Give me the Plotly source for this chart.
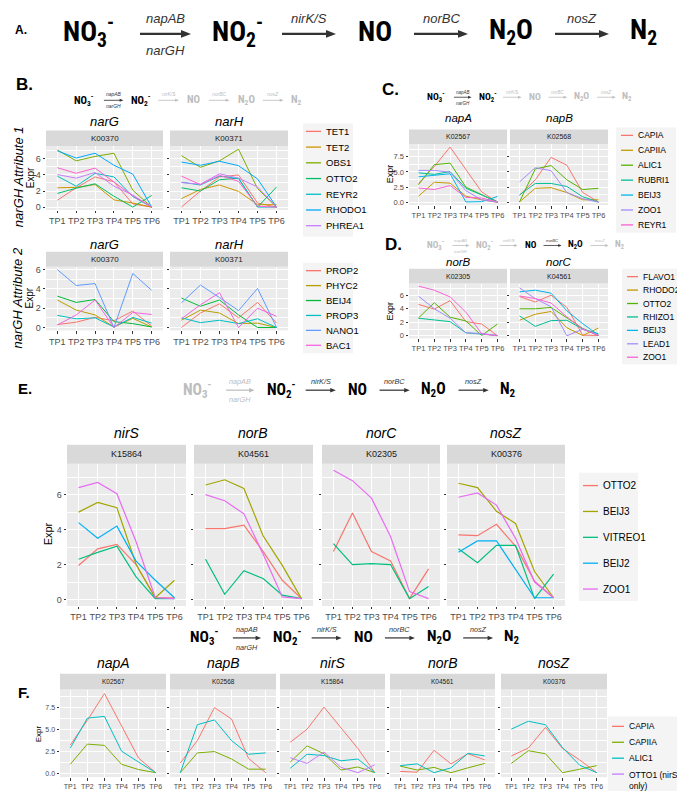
import plotly.graph_objects as go

W, H = 685, 791
FONT = "Liberation Sans, Arial, sans-serif"
NARROW = "Liberation Sans Narrow, Roboto Condensed, Arial Narrow, Liberation Sans, sans-serif"

tps = ["TP1", "TP2", "TP3", "TP4", "TP5", "TP6"]

# ---- B: narGH attribute 1
b1_strains = ["TET1", "TET2", "OBS1", "OTTO2", "REYR2", "RHODO1", "PHREA1", "other"]
b1_colors = ["#F8766D", "#CD9600", "#7CAE00", "#00BE67", "#00BFC4", "#00A9FF", "#C77CFF", "#FF61CC"]
b1_narG = [
    [0.85, 2.4, 3.75, 3.15, 0.4, 0],
    [2.4, 2.45, 2.8, 0.9, 0.5, 0],
    [7.1, 5.75, 6.3, 6.7, 2.1, 0],
    [1.7, 2.35, 2.9, 1.35, 0, 1.45],
    [3.85, 2.6, 4.2, 3.75, 1.3, 0],
    [7.0, 6.1, 6.7, 5.2, 4.1, 0],
    [4.05, 3.6, 4.3, 2.6, 1.5, 0],
    [4.9, 4.2, 4.85, 3.1, 1.4, 0],
]
b1_narH = [
    [0, 2.0, 3.75, 4.0, 0.5, 0],
    [1.05, 2.2, 2.75, 1.95, 0.3, 0.3],
    [6.4, 4.95, 5.75, 7.2, 2.3, 0],
    [2.4, 2.0, 3.4, 3.6, 0, 2.5],
    [3.1, 2.75, 3.85, 3.55, 0, 0],
    [5.6, 5.2, 5.7, 5.15, 3.5, 0],
    [3.05, 2.85, 4.15, 3.6, 2.5, 0],
    [3.85, 2.8, 3.95, 3.2, 0.1, 0],
]

# ---- B: narGH attribute 2
b2_strains = ["PROP2", "PHYC2", "BEIJ4", "PROP3", "NANO1", "BAC1"]
b2_colors = ["#F8766D", "#B79F00", "#00BA38", "#00BFC4", "#619CFF", "#F564E3"]
b2_narG = [
    [0.3, 0.55, 1.05, 0.7, 1.7, 0.15],
    [2.85, 1.8, 1.3, 0.05, 0.95, 0.05],
    [3.25, 2.6, 2.9, 0.6, 0.4, 0.05],
    [1.25, 0.9, 1.0, 0.05, 1.05, 0.45],
    [6.0, 4.35, 4.55, 0, 5.6, 3.85],
    [0.25, 1.3, 2.85, 0, 1.55, 1.35],
]
b2_narH = [
    [0, 1.5, 2.45, 1.0, 2.6, 0.45],
    [0.75, 1.8, 1.5, 0.4, 0.45, 0],
    [3.05, 2.2, 2.85, 1.3, 0, 0],
    [1.0, 0.5, 0.75, 0.4, 0.9, 0],
    [2.55, 4.4, 3.1, 1.75, 4.05, 0],
    [0.9, 2.35, 3.6, 0, 2.0, 1.15],
]

hue7 = ["#F8766D", "#C49A00", "#53B400", "#00C094", "#00B6EB", "#A58AFF", "#FB61D7"]

# ---- C: napAB
c_strains = ["CAPIA", "CAPIIA", "ALIC1", "RUBRI1", "BEIJ3", "ZOO1", "REYR1"]
c_napA = [
    [3.1, 5.9, 9.1, 5.4, 1.7, 0],
    [1.0, 3.3, 3.15, 1.0, 0.4, 0],
    [2.9, 6.2, 6.45, 2.5, 1.25, 0],
    [4.85, 4.6, 5.05, 2.3, 1.2, 0.1],
    [4.2, 4.5, 4.7, 0.05, 0.1, 0.95],
    [5.25, 5.25, 4.95, 1.9, 0.4, 0],
    [2.35, 2.1, 2.75, 0.8, 0.7, 0.05],
]
c_napB = [
    [1.15, 3.7, 7.4, 6.1, 1.6, 0.05],
    [0.05, 2.3, 2.4, 1.6, 0.4, 0.4],
    [0.05, 5.5, 6.05, 3.7, 2.1, 2.3],
    [1.2, 3.1, 3.1, 2.6, 0.9, 0.05],
    None,
    [3.35, 5.7, 5.2, 1.6, 0.6, 0.0],
    None,
]

# ---- D: norBC
d_strains = ["FLAVO1", "RHODO2", "OTTO2", "RHIZO1", "BEIJ3", "LEAD1", "ZOO1"]
d_norB = [
    [4.65, 3.95, 5.2, 2.1, 1.75, 0],
    None,
    [2.65, 4.9, 2.75, 2.2, 0.05, 1.75],
    [2.6, 2.4, 2.1, 0.45, 0.3, 0.05],
    None,
    [5.85, 4.0, 2.6, 0.45, 0.35, 0.05],
    [7.35, 6.75, 5.75, 3.5, 0.3, 0],
]
d_norC = [
    [5.8, 5.0, 6.0, 4.2, 0.1, 0.05],
    [2.3, 3.2, 3.6, 1.2, 0.05, 1.15],
    [4.0, 4.0, 4.2, 2.7, 1.1, 0.05],
    [2.95, 1.4, 2.25, 2.3, 1.0, 0.3],
    [6.5, 6.75, 6.3, 3.7, 1.8, 0.1],
    [7.1, 5.5, 4.3, 0.0, 1.0, 0.1],
    [5.9, 5.5, 4.85, 2.8, 1.0, 0.05],
]

# ---- E: nirS to nosZ
e_strains = ["OTTO2", "BEIJ3", "VITREO1", "BEIJ2", "ZOO1"]
e_colors = ["#F8766D", "#A3A500", "#00BF7D", "#00B0F6", "#E76BF3"]
e_nirS = [
    [1.95, 2.9, 3.15, 2.0, 0.1, 0.1],
    [5.0, 5.55, 5.25, 2.0, 0.1, 1.1],
    [2.3, 2.7, 3.05, 1.3, 0.05, 0.05],
    [4.4, 3.5, 4.2, 2.2, 1.1, 0.1],
    [6.4, 6.7, 6.05, 3.3, 0.1, 0.05],
]
e_norB = [
    [4.05, 4.05, 4.25, 2.75, 1.1, 0.05],
    [6.55, 6.85, 6.35, 3.65, 1.95, 0.05],
    [2.3, 0.3, 1.65, 1.2, 0.25, 0.05],
    None,
    [6.0, 5.65, 4.9, 2.6, 0.15, 0.05],
]
e_norC = [
    [2.75, 4.95, 2.75, 2.2, 0.05, 1.75],
    None,
    [3.2, 2.0, 2.05, 2.0, 0.05, 0.75],
    None,
    [7.4, 6.8, 5.8, 3.6, 0.45, 0.05],
]
e_nosZ = [
    [3.7, 3.65, 4.3, 3.05, 1.05, 0.1],
    [6.65, 6.4, 5.05, 4.35, 1.6, 0.1],
    [2.9, 2.1, 3.1, 3.1, 0.05, 1.45],
    [2.7, 3.35, 3.35, 1.7, 0.1, 0.1],
    [5.85, 6.1, 5.4, 3.5, 1.0, 0.1],
]

# ---- F: whole pathway
f_strains = ["CAPIA", "CAPIIA", "ALIC1", "OTTO1 (nirS<br>only)"]
f_colors = ["#F8766D", "#7CAE00", "#00BFC4", "#C77CFF"]
f_napA = [[3.2, 6.0, 9.05, 5.4, 1.7, 0.05], [1.0, 3.3, 3.15, 1.0, 0.4, 0.05],
          [2.85, 6.25, 6.45, 2.5, 1.25, 0.05], None]
f_napB = [[1.15, 3.7, 7.45, 6.15, 1.65, 0.05], [0.05, 2.3, 2.45, 1.6, 0.45, 0.45],
          [0.05, 5.5, 6.05, 3.7, 2.15, 2.3], None]
f_nirS = [[3.5, 5.0, 7.5, 5.1, 2.8, 0.05], [1.25, 3.1, 2.2, 0.35, 0.7, 0.05],
          [0.55, 2.15, 2.0, 1.4, 1.6, 0.05], [1.75, 1.1, 2.4, 0.65, 0.05, 0.95]]
f_norB = [[0.2, 0.1, 2.6, 1.05, 2.2, 1.5], [0.8, 0.35, 0.65, 0.05, 0.6, 1.1],
          [0.85, 1.05, 0.05, 0.6, 2.25, 1.95], None]
f_nosZ = [[1.95, 2.85, 5.2, 2.8, 1.5, 0.05], [1.1, 2.55, 2.2, 0.05, 0.45, 0.85],
          [5.0, 5.9, 5.5, 2.9, 0.9, 0.05], None]


def P(x):
    return x / W


def Q(y):
    return 1 - y / H


panels = [
    dict(facets=[("narG", "K00370", b1_narG), ("narH", "K00371", b1_narH)],
         strains=b1_strains, colors=b1_colors, xs=[(38, 155), (162, 280)],
         title_y=112, strip=(121, 137), plot=(137, 201), dtick=2, fmt="d",
         tfs=9, sfs=8, hfs=13, lw=1, expr=(22, 169, 10)),
    dict(facets=[("narG", "K00370", b2_narG), ("narH", "K00371", b2_narH)],
         strains=b2_strains, colors=b2_colors, xs=[(38, 155), (162, 280)],
         title_y=236, strip=(243, 258), plot=(258, 322), dtick=2, fmt="d",
         tfs=9, sfs=8, hfs=13, lw=1, expr=(22, 290, 10)),
    dict(facets=[("napA", "K02567", c_napA), ("napB", "K02568", c_napB)],
         strains=c_strains, colors=hue7, xs=[(401, 499), (502, 600)],
         title_y=109, strip=(120, 135), plot=(135, 196), dtick=2.5, fmt=".1f",
         tfs=7.5, sfs=7, hfs=11.5, lw=1, expr=(382, 165, 9)),
    dict(facets=[("norB", "K02305", d_norB), ("norC", "K04561", d_norC)],
         strains=d_strains, colors=hue7, xs=[(401, 499), (502, 600)],
         title_y=253, strip=(260, 275), plot=(275, 330), dtick=2, fmt="d",
         tfs=7.5, sfs=7, hfs=11.5, lw=1, expr=(382, 303, 9)),
    dict(facets=[("nirS", "K15864", e_nirS), ("norB", "K04561", e_norB),
                 ("norC", "K02305", e_norC), ("nosZ", "K00376", e_nosZ)],
         strains=e_strains, colors=e_colors,
         xs=[(59, 178), (186, 305), (314, 432), (439, 557)],
         title_y=425, strip=(437, 456), plot=(456, 599), dtick=2, fmt="d",
         tfs=9, sfs=9, hfs=14, lw=1.2, expr=(40, 527, 11)),
    dict(facets=[("napA", "K02567", f_napA), ("napB", "K02568", f_napB),
                 ("nirS", "K15864", f_nirS), ("norB", "K04561", f_norB),
                 ("nosZ", "K00376", f_nosZ)],
         strains=f_strains, colors=f_colors,
         xs=[(52, 158), (162, 268), (272, 377), (382, 487), (493, 599)],
         title_y=656, strip=(667, 683), plot=(683, 771), dtick=2.5, fmt=".1f",
         tfs=7, sfs=6.5, hfs=14, lw=1, expr=(30, 728, 8)),
]

fig = go.Figure()
shapes = []
annos = []
axes = {}


def text(x, y, s, size, color="black", bold=False, italic=False, anchor="center",
         angle=0, family=FONT):
    if bold:
        s = "<b>" + s + "</b>"
    if italic:
        s = "<i>" + s + "</i>"
    annos.append(dict(x=P(x), y=Q(y), xref="paper", yref="paper", text=s,
                      showarrow=False, xanchor=anchor, yanchor="middle",
                      textangle=angle, font=dict(size=size, color=color, family=family)))


n = 0
for p in panels:
    ymax = max(v for _, _, vals in p["facets"] for s in vals if s for v in s)
    yr = [-0.05 * ymax, 1.05 * ymax]
    p0, p1 = p["plot"]
    for j, (gene, ko, vals) in enumerate(p["facets"]):
        n += 1
        sx = "" if n == 1 else str(n)
        x0, x1 = p["xs"][j]
        tick = dict(ticks="outside", ticklen=2.5, tickwidth=1, tickcolor="#333333",
                    showline=False, zeroline=False, gridcolor="white", gridwidth=1,
                    tickfont=dict(size=p["tfs"], color="#4D4D4D", family=FONT))
        axes["xaxis" + sx] = dict(domain=[P(x0), P(x1)], anchor="y" + sx, type="category",
                                  categoryarray=tps, range=[-0.6, 5.6], **tick)
        axes["yaxis" + sx] = dict(domain=[Q(p1), Q(p0)], anchor="x" + sx, range=yr,
                                  tick0=0, dtick=p["dtick"], tickformat=p["fmt"],
                                  showticklabels=(j == 0),
                                  minor=dict(dtick=p["dtick"] / 2, showgrid=True,
                                             gridcolor="white", gridwidth=0.5, ticks=""),
                                  **tick)
        for name, color, series in zip(p["strains"], p["colors"], vals):
            if series is None:
                continue
            fig.add_trace(go.Scatter(x=tps, y=series, mode="lines", name=name,
                                     line=dict(color=color, width=p["lw"]),
                                     xaxis="x" + sx, yaxis="y" + sx, showlegend=False))
        s0, s1 = p["strip"]
        shapes.append(dict(type="rect", xref="paper", yref="paper", x0=P(x0), x1=P(x1),
                           y0=Q(s1), y1=Q(s0), fillcolor="#D9D9D9", line_width=0, layer="below"))
        text((x0 + x1) / 2, (s0 + s1) / 2, ko, p["sfs"], color="#1A1A1A")
        text((x0 + x1) / 2, p["title_y"], gene, p["hfs"], italic=True)
    ex, ey, es = p["expr"]
    text(ex, ey, "Expr", es, angle=-90)


# hand-placed legends (ggplot style)
def legend(names, colors, kx, y0, step, klen, fsize, box):
    bx0, by0, bx1, by1 = box
    shapes.append(dict(type="rect", xref="paper", yref="paper", x0=P(bx0), x1=P(bx1),
                       y0=Q(by1), y1=Q(by0), fillcolor="#F4F4F4", line_width=0))
    for i, (nm, c) in enumerate(zip(names, colors)):
        y = y0 + i * step
        shapes.append(dict(type="line", xref="paper", yref="paper", x0=P(kx), x1=P(kx + klen),
                           y0=Q(y), y1=Q(y), line=dict(color=c, width=1.3)))
        two = "<br>" in nm
        annos.append(dict(x=P(kx + klen + 3), y=Q(y - (fsize * 0.7 if two else 0)),
                          xref="paper", yref="paper", text=nm, showarrow=False,
                          xanchor="left", yanchor="top" if two else "middle", align="left",
                          font=dict(size=fsize, color="black", family=FONT)))


legend(b1_strains[:7], b1_colors[:7], 298, 122, 15.8, 15, 9.5, (295, 114, 345, 228))
legend(b2_strains, b2_colors, 298, 262, 15, 15, 9.5, (295, 254, 345, 345))
legend(c_strains, hue7, 613, 126, 15, 12, 8.5, (608, 118, 668, 224))
legend(d_strains, hue7, 619, 268, 13.5, 11, 8.5, (614, 260, 674, 356))
legend(e_strains, e_colors, 575, 478, 26, 15, 10, (571, 465, 630, 594))
legend(f_strains, f_colors, 604, 720, 16, 12, 8.5, (600, 710, 685, 787))

# reaction pathway headers
species = ["NO<sub>3</sub><sup>-</sup>", "NO<sub>2</sub><sup>-</sup>", "NO",
           "N<sub>2</sub>O", "N<sub>2</sub>"]
sp_off = [0, 150, 287, 423, 555]
arrows = [(52, 103, "napAB", "narGH"), (194, 248, "nirK/S", ""),
          (326, 380, "norBC", ""), (467, 521, "nosZ", "")]


def pathway(cx, y, s, sp_on, ar_on):
    for sp, off, on in zip(species, sp_off, sp_on):
        text(cx + off * s, y, sp, 28 * s, color="black" if on else "#BDBDBD",
             bold=True, family=NARROW)
    for (a0, a1, top, bot), on in zip(arrows, ar_on):
        col = "#333333" if on else "#BDBDBD"
        ya = y + 2 * s
        xs, xe = cx + a0 * s, cx + a1 * s
        hl, hw = max(3, 10 * s), max(1.5, 4 * s)
        shapes.append(dict(type="line", xref="paper", yref="paper", x0=P(xs), x1=P(xe - hl + 1),
                           y0=Q(ya), y1=Q(ya), line=dict(color=col, width=max(0.8, 2.2 * s))))
        shapes.append(dict(type="path", xref="paper", yref="paper", fillcolor=col, line_width=0,
                           path=f"M {P(xe - hl)},{Q(ya - hw)} L {P(xe)},{Q(ya)} "
                                f"L {P(xe - hl)},{Q(ya + hw)} Z"))
        mid = (xs + xe) / 2
        text(mid, y - 13 * s, top, 13 * s, color=col, italic=True)
        if bot:
            text(mid, y + 19 * s, bot, 13 * s, color=col, italic=True)


pathway(80, 22, 1, [1, 1, 1, 1, 1], [1, 1, 1, 1])
pathway(76, 90, 0.383, [1, 1, 0, 0, 0], [1, 0, 0, 0])
pathway(428, 87, 0.345, [1, 1, 0, 0, 0], [1, 0, 0, 0])
pathway(427, 236, 0.333, [0, 0, 1, 1, 0], [0, 0, 1, 0])
pathway(189, 381, 0.56, [0, 1, 1, 1, 1], [0, 1, 1, 1])
pathway(196, 630, 0.555, [1, 1, 1, 1, 1], [1, 1, 1, 1])

# panel letters and row labels
text(5, 20, "A.", 12, bold=True, anchor="left")
text(6, 75, "B.", 17, bold=True, anchor="left")
text(372, 80, "C.", 17, bold=True, anchor="left")
text(375, 236, "D.", 17, bold=True, anchor="left")
text(8, 380, "E.", 15, bold=True, anchor="left")
text(8, 686, "F.", 15, bold=True, anchor="left")
text(10, 168, "narGH Attribute 1", 13, italic=True, angle=-90)
text(10, 290, "narGH Attribute 2", 13, italic=True, angle=-90)

fig.update_layout(width=W, height=H, margin=dict(l=0, r=0, t=0, b=0),
                  paper_bgcolor="white", plot_bgcolor="#EBEBEB", showlegend=False,
                  shapes=shapes, annotations=annos, font=dict(family=FONT), **axes)
fig.write_html("out.html")
